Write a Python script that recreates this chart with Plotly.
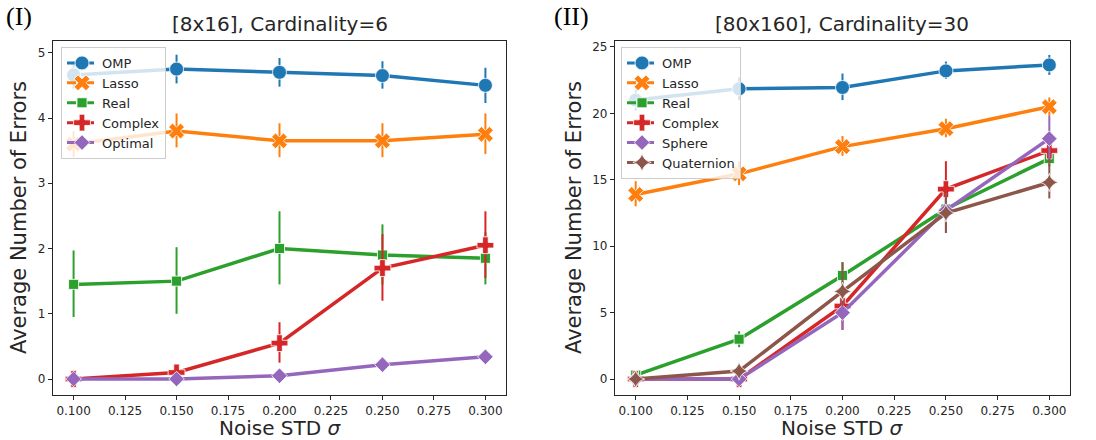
import plotly.graph_objects as go

x_vals = [0.10, 0.15, 0.20, 0.25, 0.30]

# Panel I: [8x16], Cardinality=6
p1_names = ["OMP", "Lasso", "Real", "Complex", "Optimal"]
p1_mean = {
    "OMP":     [4.66, 4.75, 4.70, 4.65, 4.50],
    "Lasso":   [3.60, 3.80, 3.65, 3.65, 3.75],
    "Real":    [1.45, 1.50, 2.00, 1.90, 1.85],
    "Complex": [0.00, 0.10, 0.55, 1.70, 2.05],
    "Optimal": [0.00, 0.00, 0.05, 0.22, 0.34],
}
p1_lo = {
    "OMP":     [4.45, 4.53, 4.48, 4.45, 4.23],
    "Lasso":   [3.40, 3.55, 3.40, 3.40, 3.45],
    "Real":    [0.95, 1.00, 1.45, 1.45, 1.45],
    "Complex": [0.00, 0.00, 0.25, 1.20, 1.55],
    "Optimal": [0.00, 0.00, 0.00, 0.15, 0.25],
}
p1_hi = {
    "OMP":     [4.87, 4.97, 4.92, 4.87, 4.77],
    "Lasso":   [3.80, 4.07, 3.92, 3.92, 4.07],
    "Real":    [1.97, 2.02, 2.57, 2.37, 2.25],
    "Complex": [0.00, 0.20, 0.87, 2.22, 2.57],
    "Optimal": [0.00, 0.00, 0.10, 0.30, 0.43],
}

# Panel II: [80x160], Cardinality=30
p2_names = ["OMP", "Lasso", "Real", "Complex", "Sphere", "Quaternion"]
p2_mean = {
    "OMP":        [21.0, 21.85, 21.95, 23.2, 23.65],
    "Lasso":      [13.9, 15.45, 17.5, 18.85, 20.5],
    "Real":       [0.3, 3.0, 7.8, 12.8, 16.6],
    "Complex":    [0.0, 0.0, 5.5, 14.3, 17.2],
    "Sphere":     [0.0, 0.0, 5.0, 12.7, 18.1],
    "Quaternion": [0.0, 0.6, 6.6, 12.5, 14.8],
}
p2_lo = {
    "OMP":        [20.2, 21.0, 21.0, 22.6, 22.9],
    "Lasso":      [13.0, 14.6, 16.8, 18.2, 19.8],
    "Real":       [0.1, 2.4, 6.8, 12.0, 16.0],
    "Complex":    [0.0, 0.0, 3.7, 12.2, 16.5],
    "Sphere":     [0.0, 0.0, 3.7, 11.0, 16.5],
    "Quaternion": [0.0, 0.3, 5.5, 11.0, 13.6],
}
p2_hi = {
    "OMP":        [21.8, 22.7, 23.0, 23.9, 24.4],
    "Lasso":      [14.9, 16.4, 18.3, 19.6, 21.2],
    "Real":       [0.5, 3.6, 8.8, 13.6, 17.2],
    "Complex":    [0.0, 0.0, 7.0, 16.4, 17.9],
    "Sphere":     [0.0, 0.0, 6.3, 14.0, 19.8],
    "Quaternion": [0.0, 0.9, 8.8, 14.0, 16.6],
}

colors = {
    "OMP": "#1f77b4", "Lasso": "#ff7f0e", "Real": "#2ca02c",
    "Complex": "#d62728", "Optimal": "#9467bd", "Sphere": "#9467bd",
    "Quaternion": "#8c564b",
}
symbols = {
    "OMP": ("circle", 14), "Lasso": ("x", 14), "Real": ("square", 10),
    "Complex": ("cross", 14), "Optimal": ("diamond", 12), "Sphere": ("diamond", 12),
    "Quaternion": ("star-diamond", 13),
}

fig = go.Figure()

def add_panel(names, mean, lo, hi, xa, ya, legend):
    for n in names:
        m = mean[n]
        plus = [h - v for h, v in zip(hi[n], m)]
        minus = [v - l for v, l in zip(m, lo[n])]
        sym, sz = symbols[n]
        fig.add_trace(go.Scatter(
            x=x_vals, y=m, mode="lines+markers", name=n, showlegend=False,
            xaxis=xa, yaxis=ya,
            line=dict(color=colors[n], width=3.5),
            marker=dict(symbol=sym, size=sz, color=colors[n],
                        line=dict(color="white", width=0.8)),
            error_y=dict(type="data", array=plus, arrayminus=minus,
                         color=colors[n], thickness=2, width=0, visible=True),
        ))
    for n in names:
        sym, sz = symbols[n]
        fig.add_trace(go.Scatter(
            x=[None], y=[None], mode="lines+markers", name=n, legend=legend,
            xaxis=xa, yaxis=ya,
            line=dict(color=colors[n], width=3, dash="dash"),
            marker=dict(symbol=sym, size=sz, color=colors[n],
                        line=dict(color="white", width=0.8)),
        ))

add_panel(p1_names, p1_mean, p1_lo, p1_hi, "x", "y", "legend")
add_panel(p2_names, p2_mean, p2_lo, p2_hi, "x2", "y2", "legend2")

font = "DejaVu Sans"
tick_x = [0.100, 0.125, 0.150, 0.175, 0.200, 0.225, 0.250, 0.275, 0.300]
axis_common = dict(showgrid=False, zeroline=False, showline=True, mirror=True,
                   linecolor="#262626", linewidth=1.2, ticks="outside",
                   ticklen=4, tickcolor="#262626",
                   tickfont=dict(family=font, size=12, color="#262626"))

leg_common = dict(bgcolor="rgba(255,255,255,0.8)", bordercolor="#cccccc",
                  borderwidth=1, font=dict(family=font, size=13, color="#262626"),
                  xanchor="left", yanchor="top", tracegroupgap=0,
                  itemwidth=30)

fig.update_layout(
    width=1096, height=440, margin=dict(l=0, r=0, t=0, b=0),
    plot_bgcolor="white", paper_bgcolor="white",
    xaxis=dict(domain=[53/1096, 506/1096], range=[0.09, 0.31],
               tickvals=tick_x, tickformat=".3f", anchor="y", **axis_common),
    yaxis=dict(domain=[1-395/440, 1-41/440], range=[-0.245, 5.18],
               tickvals=[0, 1, 2, 3, 4, 5], anchor="x", **axis_common),
    xaxis2=dict(domain=[615/1096, 1070/1096], range=[0.09, 0.31],
                tickvals=tick_x, tickformat=".3f", anchor="y2", **axis_common),
    yaxis2=dict(domain=[1-395/440, 1-41/440], range=[-1.2, 25.45],
                tickvals=[0, 5, 10, 15, 20, 25], anchor="x2", **axis_common),
    legend=dict(x=61/1096, y=1-47/440, **leg_common),
    legend2=dict(x=621/1096, y=1-47/440, **leg_common),
    showlegend=True,
)

def note(text, x, y, size, fam=font, angle=0, xanchor="center", color="#262626"):
    return dict(text=text, x=x/1096, y=1-y/440, xref="paper", yref="paper",
                xanchor=xanchor, yanchor="middle", showarrow=False,
                textangle=angle, font=dict(family=fam, size=size, color=color))

ann = [
    note("[8x16], Cardinality=6", 280, 24, 20),
    note("[80x160], Cardinality=30", 842, 24, 20),
    note("(I)", 4, 17, 26, fam="Liberation Serif", xanchor="left", color="black"),
    note("(II)", 552, 17, 26, fam="Liberation Serif", xanchor="left", color="black"),
    note("Noise STD <i>σ</i>", 280, 428, 20),
    note("Noise STD <i>σ</i>", 842, 428, 20),
    note("Average Number of Errors", 19, 218, 21, angle=-90),
    note("Average Number of Errors", 574, 218, 21, angle=-90),
]
fig.update_layout(annotations=ann)

fig.write_html("out.html")
